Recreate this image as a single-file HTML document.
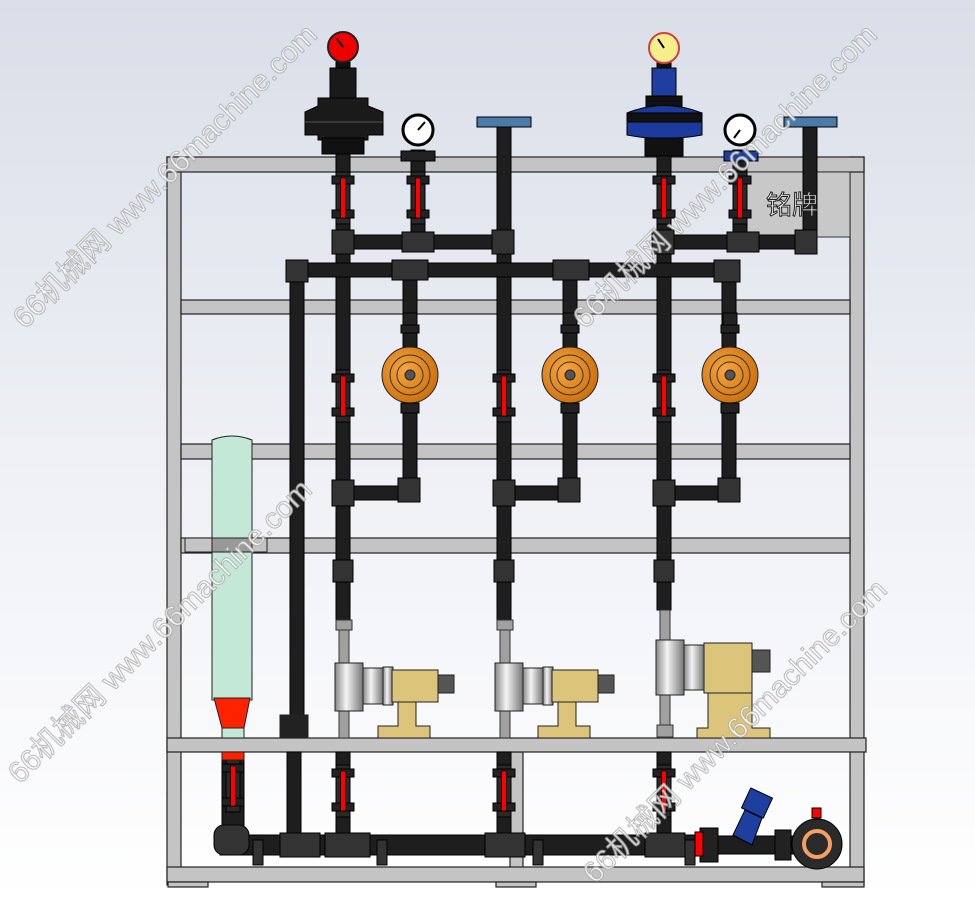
<!DOCTYPE html>
<html><head><meta charset="utf-8"><style>
html,body{margin:0;padding:0;width:975px;height:902px;overflow:hidden}
svg{display:block}
</style></head><body>
<svg width="975" height="902" viewBox="0 0 975 902" xmlns="http://www.w3.org/2000/svg">
<defs>
<linearGradient id="bg" x1="0" y1="0" x2="0" y2="1">
<stop offset="0" stop-color="#d9dee8"/><stop offset="0.5" stop-color="#eef0f5"/><stop offset="1" stop-color="#ffffff"/></linearGradient>
<linearGradient id="cyl" x1="0" y1="0" x2="1" y2="0">
<stop offset="0" stop-color="#888"/><stop offset="0.4" stop-color="#f4f4f4"/><stop offset="1" stop-color="#777"/></linearGradient>
<radialGradient id="org" cx="0.4" cy="0.4" r="0.7"><stop offset="0" stop-color="#f7a640"/><stop offset="1" stop-color="#c86a08"/></radialGradient>
<g id="fm">
<rect x="-7" y="0" width="14" height="52" fill="#2a2a2a" stroke="#000"/>
<rect x="-11" y="4" width="22" height="8" fill="#222" stroke="#000"/>
<rect x="-11" y="38" width="22" height="8" fill="#222" stroke="#000"/>
<rect x="-2.5" y="6" width="5" height="40" fill="#f00" stroke="#000" stroke-width="0.7"/>
</g>
<g id="head">
<rect x="-7" y="-62" width="14" height="12" fill="#222" stroke="#000"/>
<rect x="-9" y="-50" width="18" height="8" fill="#222" stroke="#000"/>
<circle cx="0" cy="0" r="28" fill="url(#org)" stroke="#222"/>
<circle cx="0" cy="0" r="20" fill="none" stroke="#333"/>
<circle cx="0" cy="0" r="13" fill="none" stroke="#333"/>
<circle cx="0" cy="0" r="5" fill="#555" stroke="#222"/>
<rect x="-9" y="28" width="18" height="10" fill="#222" stroke="#000"/>
</g>
</defs>
<rect width="975" height="902" fill="url(#bg)"/>

<!-- frame -->
<g fill="#c4c4c4" stroke="#222" stroke-width="1.2">
<rect x="167" y="157" width="14" height="728"/>
<rect x="850" y="157" width="14" height="728"/>
<rect x="167" y="157" width="697" height="15"/>
<rect x="181" y="300" width="669" height="14"/>
<rect x="181" y="444" width="669" height="15"/>
<rect x="181" y="538" width="669" height="15"/>
<rect x="510" y="752" width="13" height="116"/>
<rect x="167" y="867" width="697" height="15"/>
<rect x="167" y="738" width="699" height="14"/>
<rect x="168" y="882" width="40" height="5"/>
<rect x="496" y="882" width="40" height="5"/>
<rect x="822" y="882" width="42" height="5"/>
</g>
<rect x="740" y="172" width="110" height="65" fill="#c8c8c8" stroke="#333"/>

<!-- pipes -->
<g fill="#1e1e1e" stroke="#000">
<rect x="336" y="140" width="14" height="480"/>
<rect x="497" y="125" width="14" height="495"/>
<rect x="657" y="140" width="14" height="470"/>
<rect x="803" y="126" width="14" height="112"/>
<rect x="336" y="235" width="175" height="14"/>
<rect x="664" y="235" width="150" height="14"/>
<rect x="290" y="263" width="445" height="14"/>
<rect x="290" y="263" width="14" height="458"/>
<rect x="722" y="263" width="14" height="80"/>
<rect x="403" y="270" width="14" height="225"/>
<rect x="563" y="270" width="14" height="225"/>
<rect x="722" y="330" width="14" height="165"/>
<rect x="343" y="486" width="74" height="14"/>
<rect x="504" y="486" width="73" height="14"/>
<rect x="664" y="486" width="72" height="14"/>
<rect x="411" y="150" width="14" height="90"/>
<rect x="733" y="150" width="14" height="90"/>
<rect x="287" y="752" width="14" height="84"/>
<rect x="220" y="835" width="480" height="20"/>
<rect x="715" y="836" width="85" height="18"/>
<rect x="222" y="752" width="22" height="90"/>
<rect x="336" y="752" width="14" height="90"/>
<rect x="497" y="752" width="14" height="90"/>
<rect x="657" y="752" width="14" height="90"/>
</g>
<text x="766" y="214" font-family="'Liberation Sans','Noto Sans CJK SC',sans-serif" font-size="26" fill="#fff" stroke="#222" stroke-width="1">铭牌</text>
<!-- fittings -->
<g fill="#333" stroke="#000">
<rect x="332" y="230" width="22" height="24"/><rect x="402" y="232" width="32" height="20"/>
<rect x="492" y="230" width="22" height="24"/><rect x="652" y="230" width="22" height="24"/>
<rect x="727" y="232" width="32" height="20"/><rect x="795" y="230" width="22" height="24"/>
<rect x="286" y="260" width="22" height="22"/><rect x="392" y="260" width="36" height="20"/>
<rect x="553" y="260" width="36" height="20"/><rect x="714" y="260" width="26" height="22"/>
<rect x="332" y="480" width="22" height="26"/><rect x="493" y="480" width="22" height="26"/><rect x="653" y="480" width="22" height="26"/>
<rect x="398" y="478" width="22" height="24"/><rect x="558" y="478" width="22" height="24"/><rect x="718" y="478" width="22" height="24"/>
<rect x="333" y="560" width="20" height="22"/><rect x="494" y="560" width="20" height="22"/><rect x="654" y="560" width="20" height="22"/>
<rect x="280" y="833" width="40" height="24"/><rect x="325" y="833" width="45" height="24"/>
<rect x="485" y="833" width="40" height="24"/><rect x="645" y="833" width="40" height="24"/>
<rect x="214" y="825" width="35" height="30" rx="10"/>
<rect x="253" y="840" width="10" height="25"/><rect x="377" y="840" width="10" height="25"/><rect x="533" y="840" width="10" height="25"/><rect x="685" y="840" width="10" height="25"/>
</g>
<!-- gray pipes -->
<g fill="#a0a0a0" stroke="#333">
<rect x="339" y="620" width="10" height="118"/><rect x="500" y="620" width="10" height="118"/><rect x="660" y="610" width="10" height="128"/>
<rect x="336" y="620" width="16" height="10"/><rect x="497" y="620" width="16" height="10"/><rect x="657" y="725" width="16" height="12"/>
</g>
<!-- flowmeters -->
<use href="#fm" x="343" y="172"/><use href="#fm" x="418" y="172"/>
<use href="#fm" x="664" y="172"/><use href="#fm" x="740" y="172"/>
<use href="#fm" x="343" y="370"/><use href="#fm" x="504" y="370"/><use href="#fm" x="664" y="370"/>
<use href="#fm" x="233" y="760"/><use href="#fm" x="343" y="765"/><use href="#fm" x="504" y="765"/><use href="#fm" x="664" y="765"/>
<!-- pump heads -->
<use href="#head" x="410" y="375"/><use href="#head" x="570" y="375"/><use href="#head" x="730" y="375"/>
<!-- top regulators -->
<g stroke="#000">
<rect x="336" y="62" width="14" height="14" fill="#111"/>
<rect x="330" y="68" width="26" height="30" fill="#1a1a1a"/>
<path d="M318 98 L368 98 L368 106 L383 112 L383 135 L368 135 L368 140 L318 140 L318 135 L305 135 L305 112 L318 106Z" fill="#1a1a1a"/>
<line x1="305" y1="122" x2="383" y2="122" stroke="#555"/>
<rect x="322" y="138" width="42" height="16" fill="#111"/>
<circle cx="343" cy="47" r="15" fill="#e00" stroke="#222" stroke-width="2"/>
<line x1="343" y1="47" x2="337" y2="39" stroke="#000" stroke-width="2"/>
<rect x="657" y="62" width="14" height="14" fill="#111"/>
<rect x="652" y="68" width="24" height="30" fill="#1e3fa0"/>
<rect x="646" y="96" width="36" height="12" fill="#111"/>
<path d="M627 113 Q664 98 702 113 L702 135 Q664 142 627 135Z" fill="#1c3a9e"/>
<rect x="627" y="113" width="75" height="9" fill="#111"/>
<rect x="645" y="138" width="38" height="18" fill="#111"/>
<circle cx="664" cy="48" r="15" fill="#f5ee8a" stroke="#d04040" stroke-width="2"/>
<line x1="664" y1="48" x2="658" y2="39" stroke="#000" stroke-width="2"/>
<circle cx="418" cy="130" r="15" fill="#fff" stroke="#000" stroke-width="3"/>
<line x1="418" y1="130" x2="425" y2="122" stroke="#000" stroke-width="2"/>
<rect x="401" y="151" width="34" height="10" fill="#222"/>
<circle cx="740" cy="130" r="15" fill="#fff" stroke="#000" stroke-width="3"/>
<line x1="740" y1="130" x2="734" y2="138" stroke="#000" stroke-width="2"/>
<rect x="724" y="151" width="34" height="10" fill="#1e3fa0"/>
<rect x="477" y="117" width="54" height="10" fill="#4a7aa8"/>
<rect x="784" y="117" width="53" height="10" fill="#4a7aa8"/>
</g>
<!-- tank -->
<g stroke="#222">
<path d="M212 440 Q232 432 252 440 L252 700 L212 700Z" fill="#c4e8d6"/>
<path d="M214 698 L250 698 L244 728 L222 728Z" fill="#f20"/>
<rect x="222" y="728" width="22" height="10" fill="#c4e8d6"/>
<rect x="222" y="752" width="22" height="8" fill="#f20"/>
<rect x="185" y="538" width="82" height="14" fill="#c4c4c4"/>
<rect x="212" y="538" width="40" height="14" fill="#999"/>
<rect x="280" y="715" width="28" height="23" fill="#222"/>
</g>
<!-- dosing pumps -->
<g stroke="#222">
<rect x="335" y="663" width="28" height="48" fill="url(#cyl)"/><rect x="363" y="668" width="20" height="36" fill="url(#cyl)"/><rect x="383" y="667" width="10" height="38" fill="url(#cyl)"/>
<rect x="392" y="670" width="46" height="32" fill="#dcc47a"/><rect x="438" y="675" width="16" height="18" fill="#555"/>
<path d="M398 702 L416 702 L416 726 L430 726 L430 738 L378 738 L378 726 L398 726Z" fill="#dcc47a"/>
<rect x="495" y="663" width="28" height="48" fill="url(#cyl)"/><rect x="523" y="668" width="20" height="36" fill="url(#cyl)"/><rect x="543" y="667" width="10" height="38" fill="url(#cyl)"/>
<rect x="552" y="670" width="46" height="32" fill="#dcc47a"/><rect x="598" y="675" width="16" height="18" fill="#555"/>
<path d="M558 702 L576 702 L576 726 L590 726 L590 738 L538 738 L538 726 L558 726Z" fill="#dcc47a"/>
<rect x="656" y="640" width="28" height="55" fill="url(#cyl)"/><rect x="684" y="645" width="20" height="45" fill="url(#cyl)"/>
<rect x="704" y="643" width="48" height="50" fill="#dcc47a"/><rect x="752" y="650" width="18" height="22" fill="#555"/>
<path d="M708 693 L752 693 L752 728 L770 728 L770 738 L697 738 L697 728 L708 728Z" fill="#dcc47a"/>
</g>
<!-- strainer / flange -->
<g stroke="#000">
<rect x="700" y="828" width="18" height="34" fill="#222"/><rect x="695" y="832" width="8" height="24" fill="#f00"/>
<path d="M733 835 L745 810 L762 818 L752 845Z" fill="#1e3fa0"/>
<rect x="745" y="792" width="24" height="22" fill="#1e3fa0" transform="rotate(25 757 803)"/>
<rect x="775" y="830" width="16" height="30" fill="#222"/>
<circle cx="817" cy="844" r="25" fill="#2a2a2a"/>
<circle cx="817" cy="844" r="13" fill="none" stroke="#f5a060" stroke-width="4"/>
<rect x="812" y="808" width="9" height="10" fill="#f00"/>
</g>
<!-- watermarks -->
<g font-family="'Liberation Sans','Noto Sans CJK SC',sans-serif" font-size="30" fill="#fff" stroke="#aaa" stroke-width="1" opacity="0.85">
<text transform="translate(25 330) rotate(-45)">66机械网 www.66machine.com</text>
<text transform="translate(585 330) rotate(-45)">66机械网 www.66machine.com</text>
<text transform="translate(20 785) rotate(-45)">66机械网 www.66machine.com</text>
<text transform="translate(595 885) rotate(-45)">66机械网 www.66machine.com</text>
</g>
</svg>
</body></html>
